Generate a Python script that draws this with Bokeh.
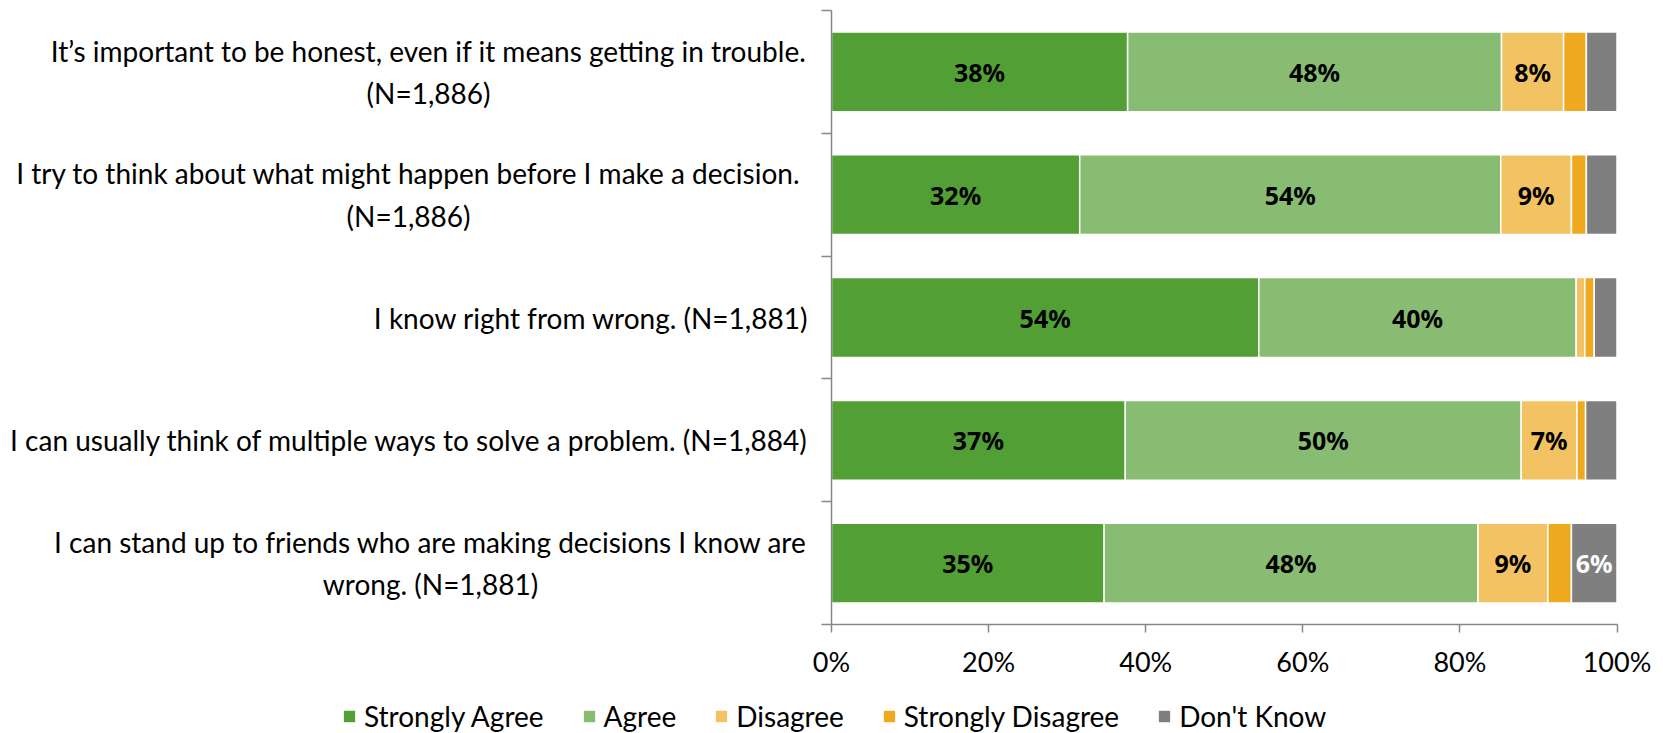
from bokeh.plotting import figure
from bokeh.models import ColumnDataSource, Legend, LegendItem, Range1d
from bokeh.core.properties import value
from bokeh.embed import file_html
from bokeh.resources import INLINE

# ---------------- data ----------------
statements = [
    "It\u2019s important to be honest, even if it means getting in trouble.\n(N=1,886)",
    "I try to think about what might happen before I make a decision.\n(N=1,886)",
    "I know right from wrong. (N=1,881)",
    "I can usually think of multiple ways to solve a problem. (N=1,884)",
    "I can stand up to friends who are making decisions I know are\nwrong. (N=1,881)",
]
responses = ["Strongly Agree", "Agree", "Disagree", "Strongly Disagree", "Don't Know"]
strongly_agree = [37.7, 31.6, 54.4, 37.4, 34.7]
agree = [47.6, 53.6, 40.4, 50.4, 47.6]
disagree = [7.9, 9.0, 1.1, 7.1, 8.9]
strongly_disagree = [2.9, 1.9, 1.2, 1.1, 3.0]
dont_know = [3.9, 3.9, 2.9, 4.0, 5.8]
x_ticks = [0, 20, 40, 60, 80, 100]
x_tick_labels = ["0%", "20%", "40%", "60%", "80%", "100%"]

series = [strongly_agree, agree, disagree, strongly_disagree, dont_know]
colors = ["#52A035", "#87BC72", "#F3C262", "#EFA91F", "#7F7F7F"]
label_colors = ["black", "black", "black", "black", "white"]

FONT = "Lato"
AXIS_GRAY = "#868686"

W, H = 1663, 733
# pixel layout of the plotting area inside the canvas
X0_PX, X100_PX = 831.0, 1616.5
TOP_PX, BOT_PX = 10.0, 624.0
n = len(statements)
px_per_x = (X100_PX - X0_PX) / 100.0
px_per_band = (BOT_PX - TOP_PX) / n
x_start = -X0_PX / px_per_x
x_end = 100 + (W - X100_PX) / px_per_x
y_top = -0.5 - TOP_PX / px_per_band
y_bot = n - 0.5 + (H - BOT_PX) / px_per_band

p = figure(width=W, height=H, output_backend="svg", toolbar_location=None,
           x_range=Range1d(x_start, x_end), y_range=Range1d(y_bot, y_top),
           min_border=0)
p.outline_line_color = None
p.xgrid.visible = False
p.ygrid.visible = False
p.background_fill_color = "white"
p.border_fill_color = "white"

idx = list(range(n))
left = [0.0] * n
renderers = []
lab_x, lab_y, lab_t, lab_c = [], [], [], []
for vals, col, lc in zip(series, colors, label_colors):
    right = [l + v for l, v in zip(left, vals)]
    src = ColumnDataSource(dict(y=idx, left=left, right=right))
    r = p.hbar(y="y", left="left", right="right", height=0.65, source=src,
               fill_color=col, line_color="white", line_width=1.5)
    renderers.append(r)
    for i, (l, v) in enumerate(zip(left, vals)):
        if round(v) >= 5:
            lab_x.append(l + v / 2)
            lab_y.append(i)
            lab_t.append(f"{v:.0f}%")
            lab_c.append(lc)
    left = right

lsrc = ColumnDataSource(dict(x=lab_x, y=lab_y, t=lab_t, c=lab_c))
p.text(x="x", y="y", text="t", source=lsrc, text_align="center",
       text_baseline="middle", text_font=value("Noto Sans"), text_font_size="25px",
       text_font_style="bold", text_color="c")

# category labels, left of the vertical axis
multi = [i for i, s in enumerate(statements) if "\n" in s]
single = [i for i, s in enumerate(statements) if "\n" not in s]
center_px = {0: 428, 1: 408, 4: 430}
right_px = 808
csrc = ColumnDataSource(dict(x=[(center_px[i] - X0_PX) / px_per_x for i in multi],
                             y=multi, t=[statements[i] for i in multi]))
p.text(x="x", y="y", text="t", source=csrc, text_align="center", text_baseline="middle",
       text_font=value(FONT), text_font_size="28px", text_color="black",
       text_line_height=1.25)
rsrc = ColumnDataSource(dict(x=[(right_px - X0_PX) / px_per_x] * len(single),
                             y=single, t=[statements[i] for i in single]))
p.text(x="x", y="y", text="t", source=rsrc, text_align="right", text_baseline="middle",
       text_font=value(FONT), text_font_size="28px", text_color="black")

# axes (drawn at the data origin)
ax = p.xaxis[0]
ax.fixed_location = n - 0.5
ax.bounds = (0, 100)
ax.ticker = x_ticks
ax.major_label_overrides = {t: s for t, s in zip(x_ticks, x_tick_labels)}
ax.axis_line_color = AXIS_GRAY
ax.axis_line_width = 1.5
ax.major_tick_line_color = AXIS_GRAY
ax.major_tick_line_width = 1.5
ax.major_tick_out = 8
ax.major_tick_in = 0
ax.minor_tick_line_color = None
ax.major_label_text_font = FONT
ax.major_label_text_font_size = "27px"
ax.major_label_text_color = "black"
ax.major_label_standoff = 12

ay = p.yaxis[0]
bounds = [i - 0.5 for i in range(n + 1)]
ay.fixed_location = 0
ay.bounds = (-0.5, n - 0.5)
ay.ticker = bounds
ay.major_label_overrides = {b: "" for b in bounds}
ay.axis_line_color = AXIS_GRAY
ay.axis_line_width = 1.5
ay.major_tick_line_color = AXIS_GRAY
ay.major_tick_line_width = 1.5
ay.major_tick_out = 10
ay.major_tick_in = 0
ay.minor_tick_line_color = None

legend = Legend(items=[LegendItem(label=nm, renderers=[r]) for nm, r in zip(responses, renderers)],
                orientation="horizontal", location=(341, 0),
                glyph_width=16, glyph_height=16, label_standoff=7, spacing=37,
                label_text_font=FONT, label_text_font_size="28px", label_text_color="black",
                border_line_alpha=0, background_fill_alpha=0, padding=0, margin=0)
p.add_layout(legend)

open("out.html", "w").write(file_html(p, INLINE))
